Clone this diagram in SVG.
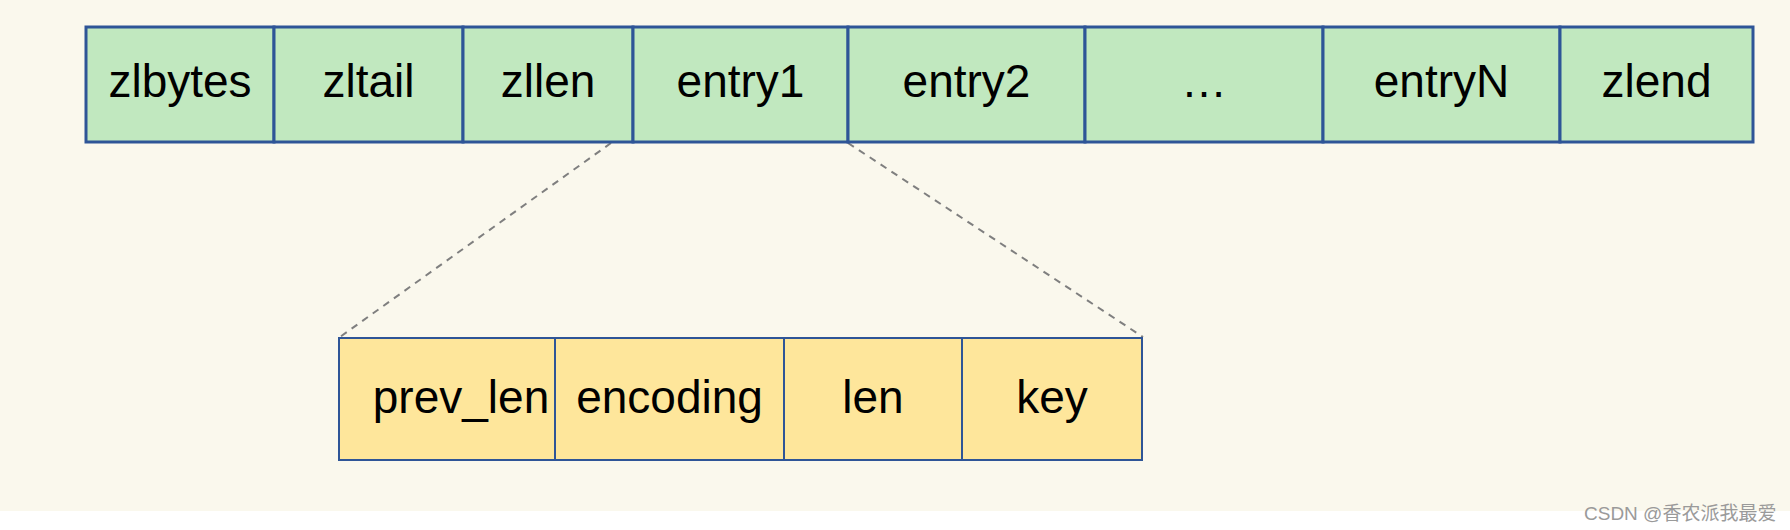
<svg xmlns="http://www.w3.org/2000/svg" width="1790" height="530" viewBox="0 0 1790 530">
  <style>
    .top rect { fill: #C1E8BF; stroke: #2E5597; stroke-width: 3; }
    .bot rect { fill: #FEE69B; stroke: #2E5597; stroke-width: 2; }
    .lbl { font-family: "Liberation Sans", Arial, sans-serif; font-size: 46px; fill: #000; text-anchor: middle; }
    .conn line { stroke: #7F7F7F; stroke-width: 2; stroke-dasharray: 7 6; fill: none; }
    .wm { font-family: "Liberation Sans", "Noto Sans CJK SC", sans-serif; font-size: 19px; fill: #9A9A9A; }
  </style>
  <rect x="0" y="0" width="1790" height="511" fill="#FAF8ED"/>
  <rect x="0" y="511" width="1790" height="19" fill="#FFFFFF"/>

  <g id="connectors" class="conn">
    <line x1="611" y1="143" x2="340" y2="337"/>
    <line x1="848" y1="143" x2="1143" y2="337"/>
  </g>

  <g id="zlbytes" class="top"><rect x="86" y="27" width="188" height="115"/><text class="lbl" x="180" y="97">zlbytes</text></g>
  <g id="zltail" class="top"><rect x="274" y="27" width="189" height="115"/><text class="lbl" x="368.5" y="97">zltail</text></g>
  <g id="zllen" class="top"><rect x="463" y="27" width="170" height="115"/><text class="lbl" x="548" y="97">zllen</text></g>
  <g id="entry1" class="top"><rect x="633" y="27" width="215" height="115"/><text class="lbl" x="740.5" y="97">entry1</text></g>
  <g id="entry2" class="top"><rect x="848" y="27" width="237" height="115"/><text class="lbl" x="966.5" y="97">entry2</text></g>
  <g id="ellipsis" class="top"><rect x="1085" y="27" width="238" height="115"/><text class="lbl" x="1204" y="97">…</text></g>
  <g id="entryN" class="top"><rect x="1323" y="27" width="237" height="115"/><text class="lbl" x="1441.5" y="97">entryN</text></g>
  <g id="zlend" class="top"><rect x="1560" y="27" width="193" height="115"/><text class="lbl" x="1656.5" y="97">zlend</text></g>

  <g id="prev_len" class="bot"><rect x="339" y="338" width="216" height="122"/><text class="lbl" x="461" y="413">prev_len</text></g>
  <g id="encoding" class="bot"><rect x="555" y="338" width="229" height="122"/><text class="lbl" x="669.5" y="413">encoding</text></g>
  <g id="len" class="bot"><rect x="784" y="338" width="178" height="122"/><text class="lbl" x="873" y="413">len</text></g>
  <g id="key" class="bot"><rect x="962" y="338" width="180" height="122"/><text class="lbl" x="1052" y="413">key</text></g>

  <text class="wm" x="1584" y="520">CSDN @香农派我最爱</text>
</svg>
